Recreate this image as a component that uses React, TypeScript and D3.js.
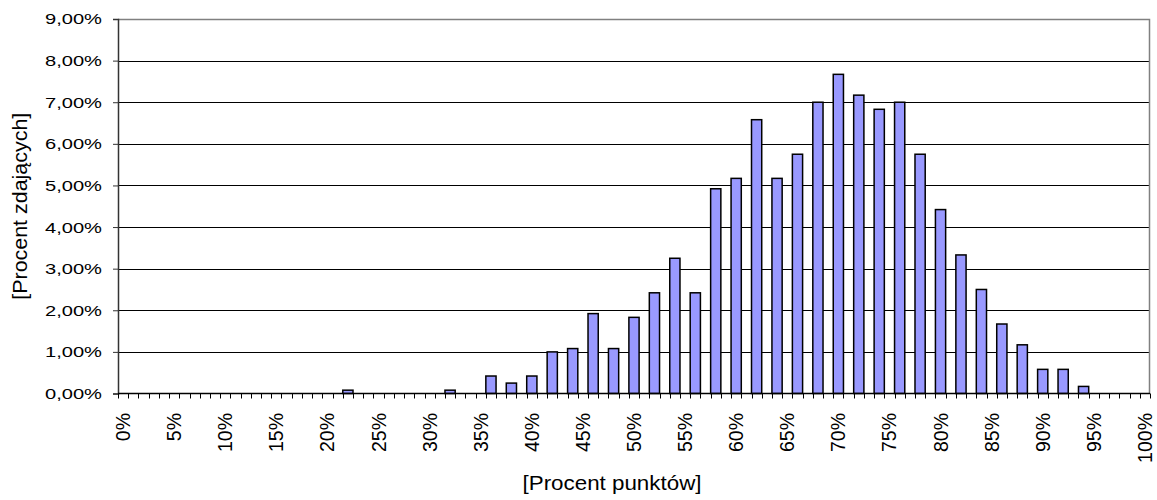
import { useEffect, useRef } from 'react';
import * as d3 from 'd3';

// percent of points (category axis, 1% steps)
const categories: number[] = d3.range(0, 101);
const labelEvery = 5;

// bars: category (percent points) -> percent of students
const barCategories = [22, 32, 36, 38, 40, 42, 44, 46, 48, 50, 52, 54, 56, 58, 60, 62, 64, 66, 68, 70, 72, 74, 76, 78, 80, 82, 84, 86, 88, 90, 92, 94];
const barValues = [0.08, 0.08, 0.42, 0.25, 0.42, 1.0, 1.08, 1.92, 1.08, 1.83, 2.42, 3.25, 2.42, 4.92, 5.17, 6.58, 5.17, 5.75, 7.0, 7.67, 7.17, 6.83, 7.0, 5.75, 4.42, 3.33, 2.5, 1.67, 1.17, 0.58, 0.58, 0.17];

const yTicks = [0, 1, 2, 3, 4, 5, 6, 7, 8, 9];

const xTitle = '[Procent punktów]';
const yTitle = '[Procent zdających]';

const App = () => {
  const svgRef = useRef<SVGSVGElement>(null);

  useEffect(() => {
    if (!svgRef.current) return;
    const width = 1157;
    const height = 500;
    const margin = { top: 19, right: 7, bottom: 106.5, left: 118 };
    const innerWidth = width - margin.left - margin.right;
    const innerHeight = height - margin.top - margin.bottom;
    const font = 'Arial, "Liberation Sans", sans-serif';

    const svg = d3.select(svgRef.current);
    svg.selectAll('*').remove();

    const g = svg.append('g').attr('transform', `translate(${margin.left},${margin.top})`);

    const xScale = d3.scaleBand<number>().domain(categories).range([0, innerWidth]).padding(0);
    const yScale = d3.scaleLinear().domain([0, 9]).range([innerHeight, 0]);

    // gridlines
    g.selectAll('.grid')
      .data(yTicks.filter(t => t > 0 && t < 9))
      .enter()
      .append('line')
      .attr('x1', 0)
      .attr('x2', innerWidth)
      .attr('y1', d => Math.round(yScale(d)) + 0.5)
      .attr('y2', d => Math.round(yScale(d)) + 0.5)
      .attr('stroke', '#000')
      .attr('stroke-width', 1);

    // plot border (top & right, gray)
    g.append('path')
      .attr('d', `M0,0.5H${innerWidth - 0.5}V${innerHeight}`)
      .attr('fill', 'none')
      .attr('stroke', '#808080')
      .attr('stroke-width', 1.5);

    // bars
    const bars = barCategories.map((c, i) => ({ c, v: barValues[i] }));
    g.selectAll('.bar')
      .data(bars)
      .enter()
      .append('rect')
      .attr('x', d => xScale(d.c) as number)
      .attr('y', d => yScale(d.v))
      .attr('width', xScale.bandwidth())
      .attr('height', d => innerHeight - yScale(d.v))
      .attr('fill', '#9999FF')
      .attr('stroke', '#000')
      .attr('stroke-width', 1.5);

    // y axis
    const yAxis = d3.axisLeft(yScale)
      .tickValues(yTicks)
      .tickSize(5)
      .tickPadding(11)
      .tickFormat(d => `${d3.format('.2f')(d as number).replace('.', ',')}%`);
    const ya = g.append('g').call(yAxis);
    ya.select('.domain').attr('stroke', '#333').attr('stroke-width', 1.5);
    ya.selectAll('.tick line').attr('stroke', '#333');
    ya.selectAll('.tick text')
      .attr('fill', '#000')
      .attr('textLength', 57)
      .attr('lengthAdjust', 'spacingAndGlyphs')
      .style('font-family', font)
      .style('font-size', '15.5px');

    // x axis: ticks at category boundaries
    const xa = g.append('g').attr('transform', `translate(0,${innerHeight})`);
    xa.append('line')
      .attr('x1', 0)
      .attr('x2', innerWidth)
      .attr('y1', 0)
      .attr('y2', 0)
      .attr('stroke', '#000')
      .attr('stroke-width', 1.5);
    const boundaries = [...categories.map(c => xScale(c) as number), innerWidth];
    xa.selectAll('.xt')
      .data(boundaries)
      .enter()
      .append('line')
      .attr('x1', d => Math.round(d) + 0.5)
      .attr('x2', d => Math.round(d) + 0.5)
      .attr('y1', 0)
      .attr('y2', 5)
      .attr('stroke', '#000')
      .attr('stroke-width', 1);
    xa.selectAll('.xl')
      .data(categories.filter(c => c % labelEvery === 0))
      .enter()
      .append('text')
      .attr('transform', d => `translate(${(xScale(d) as number) + xScale.bandwidth() / 2},19.5) rotate(-90)`)
      .attr('text-anchor', 'end')
      .attr('dy', '0.36em')
      .style('font-family', font)
      .style('font-size', '19.5px')
      .attr('fill', '#000')
      .text(d => `${d}%`);

    // axis titles
    svg.append('text')
      .attr('x', 612)
      .attr('y', 490)
      .attr('text-anchor', 'middle')
      .attr('textLength', 179)
      .attr('lengthAdjust', 'spacingAndGlyphs')
      .style('font-family', font)
      .style('font-size', '20.5px')
      .attr('fill', '#000')
      .text(xTitle);

    svg.append('text')
      .attr('transform', `translate(27,${margin.top + innerHeight / 2}) rotate(-90)`)
      .attr('text-anchor', 'middle')
      .attr('textLength', 187)
      .attr('lengthAdjust', 'spacingAndGlyphs')
      .style('font-family', font)
      .style('font-size', '20px')
      .attr('fill', '#000')
      .text(yTitle);
  }, []);

  return (
    <svg
      ref={svgRef}
      width={1157}
      height={500}
      style={{ position: 'absolute', left: 0, top: 0, background: '#fff' }}
    />
  );
};

export default App;
